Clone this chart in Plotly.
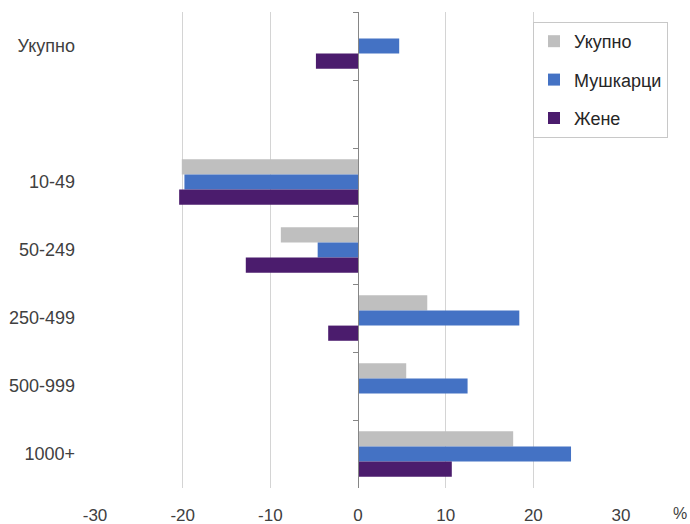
import plotly.graph_objects as go

categories = ["Укупно", " ", "10-49", "50-249", "250-499", "500-999", "1000+"]
ukupno = [None, None, -20.1, -8.8, 7.9, 5.5, 17.7]
muskarci = [4.7, None, -19.8, -4.6, 18.4, 12.5, 24.3]
zene = [-4.8, None, -20.4, -12.8, -3.4, None, 10.7]
x_ticks = [-30, -20, -10, 0, 10, 20, 30]
x_tick_labels = ["-30", "-20", "-10", "0", "10", "20", "30"]

series = [("Укупно", ukupno, "#bfbfbf"), ("Мушкарци", muskarci, "#4472c4"), ("Жене", zene, "#4b1c6d")]

fig = go.Figure()
for i, (name, vals, col) in enumerate(series):
    fig.add_trace(go.Bar(y=categories, x=vals, name=name, orientation="h",
                         marker=dict(color=col, line=dict(width=0)),
                         legendgroup=str(i)))
# invisible trace for the zero-axis with boundary ticks
fig.add_trace(go.Bar(y=categories, x=[None]*len(categories), yaxis="y2",
                     orientation="h", showlegend=False, hoverinfo="skip"))

font = "Liberation Sans, Arial, sans-serif"
fig.update_layout(
    width=690, height=524,
    margin=dict(l=95, r=69, t=12, b=36),
    paper_bgcolor="white", plot_bgcolor="white",
    barmode="group", bargap=0.33, bargroupgap=0,
    font=dict(family=font, size=17, color="#404040"),
    xaxis=dict(range=[-30, 30], tickvals=x_ticks, ticktext=x_tick_labels,
               showgrid=True, gridcolor="#d4d4d4",
               gridwidth=1, zeroline=False, showline=False, ticks="",
               tickfont=dict(size=17, color="#404040"), automargin=False,
               ticklabelstandoff=15),
    yaxis=dict(categoryorder="array", categoryarray=categories, autorange="reversed",
               showgrid=False, zeroline=False, showline=False, ticks="",
               tickfont=dict(size=18, color="#404040"), automargin=False,
               ticklabelstandoff=19),
    yaxis2=dict(matches="y", overlaying="y", anchor="free", position=0.5, side="left",
                showline=True, linecolor="#868686", linewidth=1, ticks="outside",
                tickson="boundaries", ticklen=5, tickcolor="#868686",
                showticklabels=False, showgrid=False, zeroline=False),
    legend=dict(x=0.8327, y=0.979, xanchor="left", yanchor="top",
                bordercolor="#c8c8c8", borderwidth=1, bgcolor="white",
                font=dict(size=18, color="#262626"), traceorder="grouped",
                tracegroupgap=12, itemwidth=30),
    showlegend=True,
)
fig.add_annotation(text="%", xref="paper", yref="paper", x=1.113, y=-0.074,
                   showarrow=False, font=dict(size=16, color="#404040"),
                   xanchor="center", yanchor="bottom", borderpad=0)
fig.write_html("out.html", config={"displayModeBar": False},
               post_script="document.body.style.margin='0';")
